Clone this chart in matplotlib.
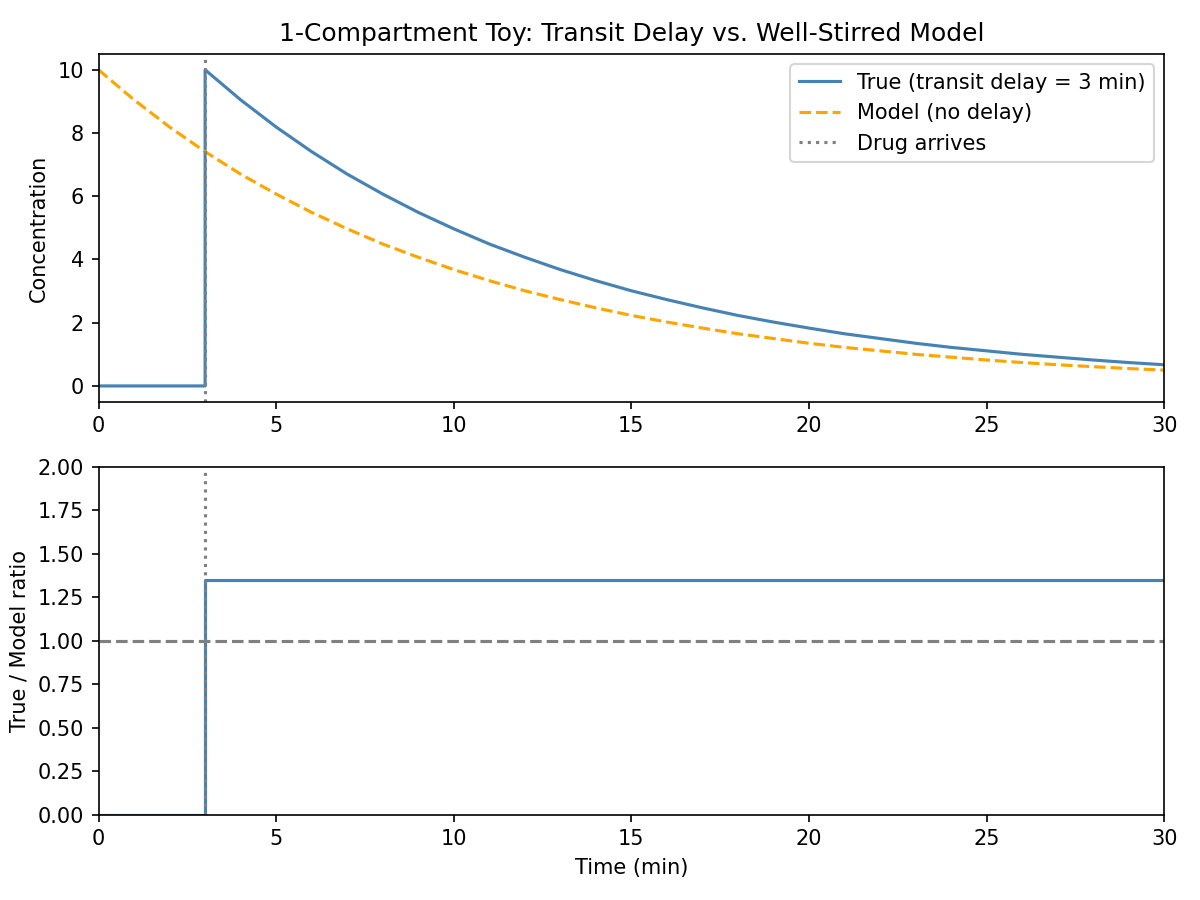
import matplotlib
matplotlib.use("Agg")
import matplotlib.pyplot as plt

# Values at 1-minute steps
time_model = list(range(0, 31))
conc_model = [10.0, 9.05, 8.19, 7.41, 6.70, 6.07, 5.49, 4.97, 4.49, 4.07,
              3.68, 3.33, 3.01, 2.73, 2.47, 2.23, 2.02, 1.83, 1.65, 1.50,
              1.35, 1.22, 1.11, 1.00, 0.91, 0.82, 0.74, 0.67, 0.61, 0.55, 0.50]

time_true = [0, 1, 2, 3, 3] + list(range(4, 31))
conc_true = [0.0, 0.0, 0.0, 0.0, 10.0, 9.05, 8.19, 7.41, 6.70, 6.07, 5.49,
             4.97, 4.49, 4.07, 3.68, 3.33, 3.01, 2.73, 2.47, 2.23, 2.02,
             1.83, 1.65, 1.50, 1.35, 1.22, 1.11, 1.00, 0.91, 0.82, 0.74, 0.67]

time_ratio = [0, 3, 3, 30]
ratio = [0.0, 0.0, 1.35, 1.35]

delay = 3
ref_ratio = 1.0

fig, (ax1, ax2) = plt.subplots(2, 1, figsize=(8, 6), dpi=150)

ax1.plot(time_true, conc_true, color="steelblue", label="True (transit delay = 3 min)")
ax1.plot(time_model, conc_model, color="orange", linestyle="--", label="Model (no delay)")
ax1.axvline(delay, color="gray", linestyle=":", label="Drug arrives")
ax1.set_xlim(0, 30)
ax1.set_ylabel("Concentration")
ax1.set_title("1-Compartment Toy: Transit Delay vs. Well-Stirred Model")
ax1.legend(loc="upper right")

ax2.plot(time_ratio, ratio, color="steelblue")
ax2.axhline(ref_ratio, color="gray", linestyle="--")
ax2.axvline(delay, color="gray", linestyle=":")
ax2.set_xlim(0, 30)
ax2.set_ylim(0, 2)
ax2.set_xlabel("Time (min)")
ax2.set_ylabel("True / Model ratio")

fig.tight_layout()
fig.savefig("out.png", dpi=150)
